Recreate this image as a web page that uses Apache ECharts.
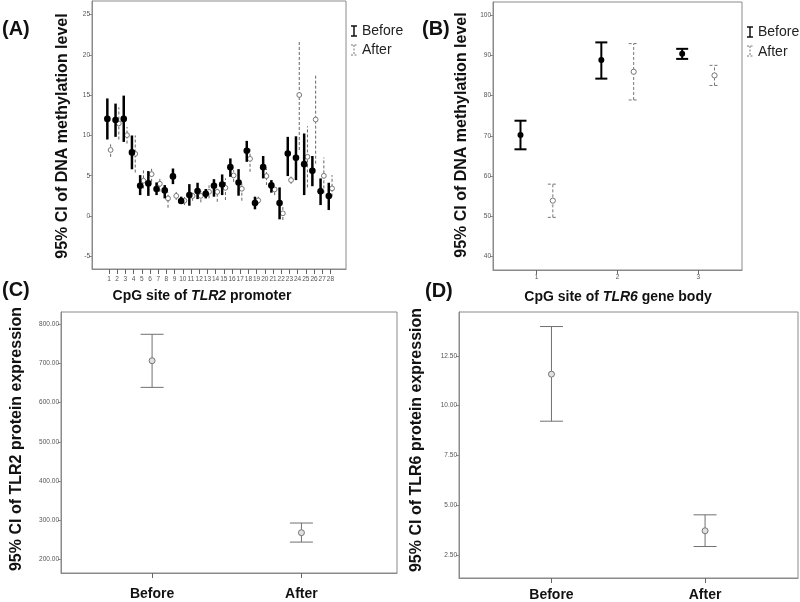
<!DOCTYPE html>
<html>
<head>
<meta charset="utf-8">
<script src="https://cdn.jsdelivr.net/npm/echarts@6/dist/echarts.min.js"></script>
<style>html,body{margin:0;padding:0;background:#fff}#c{width:800px;height:602px}</style>
</head>
<body>
<div id="c"></div>
<script>
// ---------- DATA ----------
const sitesA = [1,2,3,4,5,6,7,8,9,10,11,12,13,14,15,16,17,18,19,20,21,22,23,24,25,26,27,28];
const beforeMeanA = [12.06,11.93,12.06,7.9,3.76,4.05,3.35,3.18,4.92,1.86,2.6,3.1,2.77,3.75,3.9,6.07,4.17,8.1,1.61,6.07,3.8,1.61,7.76,7.22,6.44,5.61,3.06,2.48];
const beforeLowA  = [9.5,9.83,9.2,5.8,2.6,2.5,2.6,2.19,3.96,1.5,1.28,2.1,2.19,2.4,2.6,4.87,2.52,6.73,0.83,4.67,2.9,-0.41,4.96,4.46,2.6,3.7,1.36,0.74];
const beforeHighA = [14.6,13.96,14.95,10.0,5.08,5.58,4.17,3.84,5.9,2.4,3.96,4.13,3.35,4.58,5.16,7.15,5.82,9.33,2.4,7.45,4.46,3.55,9.83,9.9,10.25,7.45,4.67,4.13];
const afterMeanA  = [8.2,11.5,10.04,7.72,4.38,5.2,4.0,2.19,2.5,1.9,2.5,2.5,3.0,3.0,3.5,5.04,3.38,7.1,1.94,4.96,3.3,0.33,4.46,15.03,7.35,11.98,4.99,3.43];
const afterLowA   = [7.35,9.5,9.0,5.4,3.43,4.25,3.0,1.03,2.0,1.36,1.9,1.7,2.2,1.77,1.98,4.25,1.9,5.49,1.5,3.84,2.6,-0.5,4.0,8.2,3.55,6.5,2.81,2.39];
const afterHighA  = [8.9,13.5,11.07,10.0,5.9,6.1,4.67,2.94,3.1,2.48,3.1,3.1,3.9,3.63,4.67,5.7,4.05,8.38,2.4,5.9,3.84,1.15,4.9,21.8,11.15,17.5,7.27,5.08];
const yTicksA = [-5,0,5,10,15,20,25];

const sitesB = [1,2,3];
const beforeMeanB = [70.2,88.8,90.4];
const beforeLowB  = [66.65,84.2,89.1];
const beforeHighB = [73.75,93.2,91.6];
const afterMeanB  = [53.9,85.9,85.0];
const afterLowB   = [49.75,78.9,82.5];
const afterHighB  = [58.0,92.9,87.5];
const yTicksB = [40,50,60,70,80,90,100];

const groupsCD = ['Before','After'];
const tlr2Mean = [707,268];
const tlr2Low  = [639,244];
const tlr2High = [774.5,292.7];
const yTicksC = [200,300,400,500,600,700,800];

const tlr6Mean = [11.58,3.72];
const tlr6Low  = [9.22,2.93];
const tlr6High = [13.97,4.52];
const yTicksD = [2.5,5,7.5,10,12.5];

// ---------- HELPERS ----------
const FONT = '"Liberation Sans", Arial, Helvetica, sans-serif';
function rows(xs, m, lo, hi){ return xs.map((x,i)=>[x, m[i], lo[i], hi[i]]); }
function errBar(o){
  return function(params, api){
    const x = api.value(0) + o.offset;
    const m = api.coord([x, api.value(1)]);
    const lo = api.coord([x, api.value(2)]);
    const hi = api.coord([x, api.value(3)]);
    const ls = {stroke:o.color, lineWidth:o.lw, lineDash:o.dash||null};
    const ch = [{type:'line', shape:{x1:lo[0],y1:lo[1],x2:hi[0],y2:hi[1]}, style:ls}];
    if (o.cap){
      const h = o.cap/2;
      ch.push({type:'line', shape:{x1:lo[0]-h,y1:lo[1],x2:lo[0]+h,y2:lo[1]}, style:ls});
      ch.push({type:'line', shape:{x1:hi[0]-h,y1:hi[1],x2:hi[0]+h,y2:hi[1]}, style:ls});
    }
    ch.push({type:'circle', shape:{cx:m[0],cy:m[1],r:o.r}, style:{fill:o.fill, stroke:o.mstroke, lineWidth:o.mlw}});
    return {type:'group', children:ch};
  };
}
function valAxis(idx, min, max, ticks, fmt, extra){
  return Object.assign({
    type:'value', gridIndex:idx, min:min, max:max,
    splitLine:{show:false},
    axisLine:{show:true, onZero:false, lineStyle:{color:'#8a8a8a', width:1}},
    axisTick:{show:true, customValues:ticks, length:3, lineStyle:{color:'#8a8a8a'}},
    axisLabel:{customValues:ticks, fontSize:6.5, color:'#555', margin:2, fontFamily:FONT, formatter:fmt}
  }, extra||{});
}
function txt(x, y, text, size, opts){
  opts = opts||{};
  return {type:'text', x:x, y:y, rotation:opts.rot||0, silent:true,
    style:{text:text, fontSize:size, fontWeight:opts.weight||'bold', fontFamily:FONT, fill:opts.color||'#111',
      align:opts.align||'center', verticalAlign:'middle', textAlign:opts.align||'center', textVerticalAlign:'middle',
      rich:opts.rich}};
}
function legendIcon(x, y1, y2, color, dash, lw){
  const s = {stroke:color, lineWidth:lw, lineDash:dash||null};
  return [
    {type:'line', shape:{x1:x,y1:y1,x2:x,y2:y2}, style:s},
    {type:'line', shape:{x1:x-3,y1:y1,x2:x+3,y2:y1}, style:s},
    {type:'line', shape:{x1:x-3,y1:y2,x2:x+3,y2:y2}, style:s}
  ];
}

const chart = echarts.init(document.getElementById('c'), null, {renderer:'canvas'});
const gridStyle = {show:true, borderColor:'#8a8a8a', borderWidth:1, backgroundColor:'#fff'};

const beforeA = {offset:-0.2, color:'#000', lw:2.5, cap:0, r:3.3, fill:'#000', mstroke:'#000', mlw:0};
const afterA  = {offset:0.2, color:'#666', lw:1, dash:[3,2], cap:0, r:2.4, fill:'#fff', mstroke:'#777', mlw:1};
const beforeB = {offset:-0.2, color:'#000', lw:2, cap:12, r:3, fill:'#000', mstroke:'#000', mlw:0};
const afterB  = {offset:0.2, color:'#777', lw:1, dash:[3,2], cap:10, r:2.6, fill:'#fff', mstroke:'#777', mlw:1};
const cdStyle = {offset:0, color:'#707070', lw:1, cap:23, r:3, fill:'#e0e0e0', mstroke:'#777', mlw:1};

const rich14 = {
  b:{fontSize:14, fontWeight:'bold', fontFamily:FONT, fill:'#111'},
  i:{fontSize:14, fontWeight:'bold', fontStyle:'italic', fontFamily:FONT, fill:'#111'}
};

const option = {
  animation:false,
  backgroundColor:'#fff',
  grid:[
    Object.assign({left:92, top:1, width:254, height:268}, gridStyle),
    Object.assign({left:493, top:2, width:249, height:268}, gridStyle),
    Object.assign({left:61, top:312, width:336, height:261}, gridStyle),
    Object.assign({left:459, top:312, width:339, height:267}, gridStyle)
  ],
  xAxis:[
    valAxis(0, -1.07, 29.9, sitesA, v=>String(v), {
      axisTick:{show:true, customValues:sitesA, length:5, lineStyle:{color:'#666'}},
      axisLabel:{customValues:sitesA, fontSize:6.5, color:'#555', margin:7, fontFamily:FONT, formatter:v=>String(v)}}),
    valAxis(1, 0.46, 3.54, sitesB, v=>String(v), {
      axisTick:{show:true, customValues:sitesB, length:4, lineStyle:{color:'#666'}},
      axisLabel:{customValues:sitesB, fontSize:6.5, color:'#555', margin:4, fontFamily:FONT, formatter:v=>String(v)}}),
    valAxis(2, 0.39, 2.64, [1,2], v=>groupsCD[Math.round(v)-1], {
      axisTick:{show:true, customValues:[1,2], length:5, lineStyle:{color:'#666'}},
      axisLabel:{customValues:[1,2], fontSize:14, fontWeight:'bold', color:'#111', margin:14, fontFamily:FONT, formatter:v=>groupsCD[Math.round(v)-1]}}),
    valAxis(3, 0.398, 2.605, [1,2], v=>groupsCD[Math.round(v)-1], {
      axisTick:{show:true, customValues:[1,2], length:5, lineStyle:{color:'#666'}},
      axisLabel:{customValues:[1,2], fontSize:14, fontWeight:'bold', color:'#111', margin:10, fontFamily:FONT, formatter:v=>groupsCD[Math.round(v)-1]}})
  ],
  yAxis:[
    valAxis(0, -6.58, 26.7, yTicksA, v=>String(v)),
    valAxis(1, 36.68, 103.23, yTicksB, v=>String(v)),
    valAxis(2, 165.1, 831.4, yTicksC, v=>v.toFixed(2)),
    valAxis(3, 1.35, 14.7, yTicksD, v=>v.toFixed(2))
  ],
  series:[
    {type:'custom', name:'Before', xAxisIndex:0, yAxisIndex:0, renderItem:errBar(beforeA), data:rows(sitesA,beforeMeanA,beforeLowA,beforeHighA), encode:{x:0,y:[1,2,3]}, z:3},
    {type:'custom', name:'After', xAxisIndex:0, yAxisIndex:0, renderItem:errBar(afterA), data:rows(sitesA,afterMeanA,afterLowA,afterHighA), encode:{x:0,y:[1,2,3]}, z:2},
    {type:'custom', name:'Before', xAxisIndex:1, yAxisIndex:1, renderItem:errBar(beforeB), data:rows(sitesB,beforeMeanB,beforeLowB,beforeHighB), encode:{x:0,y:[1,2,3]}},
    {type:'custom', name:'After', xAxisIndex:1, yAxisIndex:1, renderItem:errBar(afterB), data:rows(sitesB,afterMeanB,afterLowB,afterHighB), encode:{x:0,y:[1,2,3]}},
    {type:'custom', name:'TLR2', xAxisIndex:2, yAxisIndex:2, renderItem:errBar(cdStyle), data:rows([1,2],tlr2Mean,tlr2Low,tlr2High), encode:{x:0,y:[1,2,3]}},
    {type:'custom', name:'TLR6', xAxisIndex:3, yAxisIndex:3, renderItem:errBar(cdStyle), data:rows([1,2],tlr6Mean,tlr6Low,tlr6High), encode:{x:0,y:[1,2,3]}}
  ],
  graphic:{elements:[].concat(
    [
      txt(2, 29, '(A)', 20, {align:'left'}),
      txt(422, 29, '(B)', 20, {align:'left'}),
      txt(2, 290, '(C)', 20, {align:'left'}),
      txt(425, 291, '(D)', 20, {align:'left'}),
      txt(63, 136, '95% CI of DNA methylation level', 16, {rot:Math.PI/2}),
      txt(462, 135, '95% CI of DNA methylation level', 16, {rot:Math.PI/2}),
      txt(17, 439, '95% CI of TLR2 protein expression', 16, {rot:Math.PI/2}),
      txt(417, 440, '95% CI of TLR6 protein expression', 16, {rot:Math.PI/2}),
      txt(202, 296, '{b|CpG site of }{i|TLR2}{b| promoter}', 14, {rich:rich14}),
      txt(618, 297, '{b|CpG site of }{i|TLR6}{b| gene body}', 14, {rich:rich14}),
      txt(362, 31, 'Before', 14, {align:'left', weight:'normal', color:'#222'}),
      txt(362, 50, 'After', 14, {align:'left', weight:'normal', color:'#222'}),
      txt(758, 32, 'Before', 14, {align:'left', weight:'normal', color:'#222'}),
      txt(758, 52, 'After', 14, {align:'left', weight:'normal', color:'#222'})
    ],
    legendIcon(354, 26, 36, '#111', null, 1.5),
    legendIcon(354, 45, 55, '#777', [2,1.5], 1),
    legendIcon(750, 27, 37, '#111', null, 1.5),
    legendIcon(750, 46, 56, '#777', [2,1.5], 1)
  )}
};
chart.setOption(option);
</script>
</body>
</html>
